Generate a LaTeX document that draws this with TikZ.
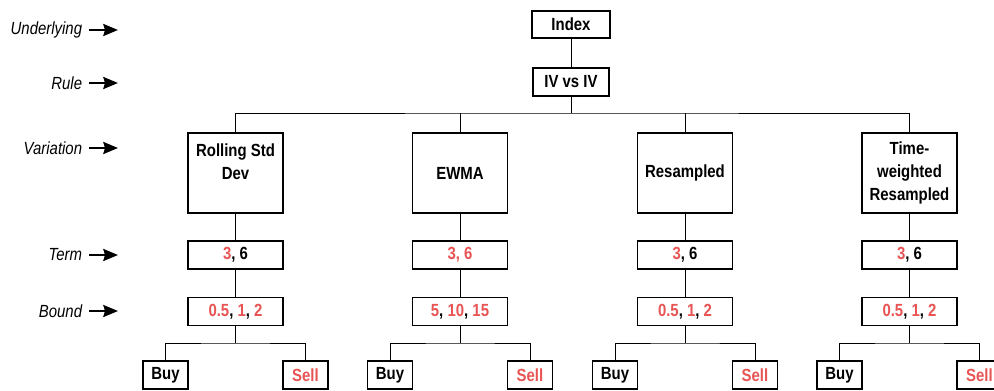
\documentclass[tikz,border=0pt]{standalone}
\usepackage{fontspec}
\setmainfont{Liberation Sans}[FakeStretch=0.85]
\usepackage{xcolor}
\usepackage{tikz}
\usetikzlibrary{arrows.meta, positioning, calc}
\definecolor{valrouge}{RGB}{232,84,84}
\newcommand{\rv}[1]{\textcolor{valrouge}{#1}}

\begin{document}
\begin{tikzpicture}[x=0.03cm, y=-0.03cm,
    every node/.style={font=\fontsize{15}{19.5}\selectfont\bfseries},
    boite/.style={draw, line width=1.2pt, inner sep=0pt, align=center, minimum height=0.84cm},
    haut/.style={boite, minimum width=2.3cm},
    variante/.style={boite, minimum width=2.85cm, minimum height=2.4cm},
    param/.style={boite, minimum width=2.85cm},
    feuille/.style={boite, minimum width=1.35cm},
    niveau/.style={anchor=east, inner ysep=0pt, inner xsep=0.2cm, font=\fontsize{15}{17}\selectfont\itshape},
    fleche/.style={-{Stealth[length=4.4mm,width=3.6mm,inset=0.5mm]}, line width=1.8pt},
    lien/.style={line width=0.8pt}]
    \useasboundingbox (0,0) rectangle (994,391);
    \clip (0,0) rectangle (994,391);

    % niveaux a gauche
    \node[niveau] (lu) at (89,30) {Underlying};
    \node[niveau] (lr) at (89,83) {Rule};
    \node[niveau] (lv) at (89,148) {Variation};
    \node[niveau] (lt) at (89,255) {Term};
    \node[niveau] (lb) at (89,311) {Bound};
    \coordinate (au) at (118,30);
    \coordinate (ar) at (118,83);
    \coordinate (av) at (118,148);
    \coordinate (at1) at (118,255);
    \coordinate (ab) at (118,311);
    \draw[fleche] (lu) -- (au);
    \draw[fleche] (lr) -- (ar);
    \draw[fleche] (lv) -- (av);
    \draw[fleche] (lt) -- (at1);
    \draw[fleche] (lb) -- (ab);

    % racine
    \node[haut, minimum width=2.34cm, minimum height=0.81cm] (index) at (571,24.5) {Index};
    \node[haut, minimum width=2.28cm] (iv) at (571,82) {IV vs IV};
    \coordinate (bus) at (571,113);

    % variations
    \node[variante] (v1) at (235.5,173) {Rolling Std\\Dev\\\mbox{}};
    \node[variante] (v2) at (460,173) {EWMA};
    \node[variante] (v3) at (685,173) {Resampled};
    \node[variante] (v4) at (909.5,173) {Time-\\weighted\\Resampled};

    % termes
    \node[param] (t1) at (235.5,255) {\rv{3}, 6};
    \node[param] (t2) at (460,255) {\rv{3, 6}};
    \node[param] (t3) at (685,255) {\rv{3}, 6};
    \node[param] (t4) at (909.5,255) {\rv{3}, 6};

    % bornes
    \node[param] (b1) at (235.5,311.5) {\rv{0.5}, \rv{1}, \rv{2}};
    \node[param] (b2) at (460,311.5) {\rv{5}, \rv{10}, \rv{15}};
    \node[param] (b3) at (685,311.5) {\rv{0.5}, \rv{1}, \rv{2}};
    \node[param] (b4) at (909.5,311.5) {\rv{0.5}, \rv{1}, \rv{2}};

    % feuilles
    \node[feuille] (buy1) at (165.5,375) {Buy};
    \node[feuille] (sell1) at (305.5,375) {\rv{Sell}};
    \node[feuille] (buy2) at (390,375) {Buy};
    \node[feuille] (sell2) at (530,375) {\rv{Sell}};
    \node[feuille] (buy3) at (615,375) {Buy};
    \node[feuille] (sell3) at (755,375) {\rv{Sell}};
    \node[feuille] (buy4) at (839.5,375) {Buy};
    \node[feuille] (sell4) at (979.5,375) {\rv{Sell}};

    \coordinate (k1) at (235.5,343);
    \coordinate (k2) at (460,343);
    \coordinate (k3) at (685,343);
    \coordinate (k4) at (909.5,343);

    % liens
    \draw[lien] (index) -- (iv);
    \draw[lien] (iv) -- (bus);
    \draw[lien] (v1.north) |- (bus) -| (v4.north);
    \draw[lien] (v2.north) -- (v2.north |- bus);
    \draw[lien] (v3.north) -- (v3.north |- bus);

    \draw[lien] (v1) -- (t1) -- (b1) -- (k1);
    \draw[lien] (v2) -- (t2) -- (b2) -- (k2);
    \draw[lien] (v3) -- (t3) -- (b3) -- (k3);
    \draw[lien] (v4) -- (t4) -- (b4) -- (k4);

    \draw[lien] (buy1.north) |- (k1) -| (sell1.north);
    \draw[lien] (buy2.north) |- (k2) -| (sell2.north);
    \draw[lien] (buy3.north) |- (k3) -| (sell3.north);
    \draw[lien] (buy4.north) |- (k4) -| (sell4.north);
\end{tikzpicture}
\end{document}
